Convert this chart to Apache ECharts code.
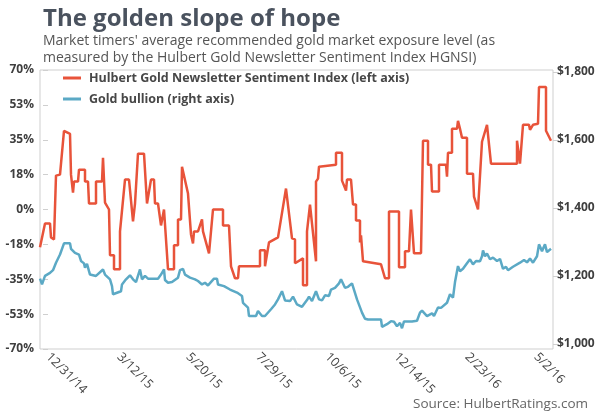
<!DOCTYPE html>
<html>
<head>
<meta charset="utf-8">
<title>The golden slope of hope</title>
<script src="https://cdn.jsdelivr.net/npm/echarts@6/dist/echarts.min.js"></script>
<style>
  html, body { margin: 0; padding: 0; background: #fff; }
  #chart { width: 600px; height: 419px; }
</style>
</head>
<body>
<div id="chart"></div>
<script>
// x values are days counted from 12/31/14
const dateTicks = [0, 71, 140, 210, 279, 348, 419, 488];
const dateLabels = ["12/31/14", "3/12/15", "5/20/15", "7/29/15", "10/6/15", "12/14/15", "2/23/16", "5/2/16"];

const pctTicks = [-70, -52.5, -35, -17.5, 0, 17.5, 35, 52.5, 70];
const pctLabels = ["-70%", "-53%", "-35%", "-18%", "0%", "18%", "35%", "53%", "70%"];

const goldTicks = [1000, 1200, 1400, 1600, 1800];
const goldLabels = ["$1,000", "$1,200", "$1,400", "$1,600", "$1,800"];

// HGNSI, % (left axis)
const hgnsiDays = [
  -8, -3, 2, 3, 6, 8, 12, 16, 22, 23, 25, 26, 30, 31, 37, 37, 40, 41, 48, 48,
  54, 55, 57, 61, 62, 66, 66, 72, 72, 74, 77, 81, 85, 87, 89, 90, 96, 99, 103, 106,
  107, 110, 113, 116, 120, 126, 126, 130, 130, 133, 134, 140, 142, 143, 145, 146, 150, 154, 155, 158,
  160, 161, 165, 175, 175, 181, 183, 187, 190, 191, 212, 212, 217, 217, 221, 230, 238, 244, 247, 247,
  255, 255, 259, 259, 261, 262, 268, 268, 270, 271, 288, 288, 294, 294, 298, 299, 303, 305, 308, 308,
  312, 312, 313, 315, 333, 337, 341, 341, 351, 351, 357, 357, 361, 363, 366, 373, 375, 380, 380, 383,
  384, 391, 391, 398, 399, 400, 404, 404, 409, 410, 412, 414, 419, 419, 425, 426, 430, 434, 439, 443,
  469, 469, 472, 475, 481, 482, 485, 490, 491, 498, 498, 503
];
const hgnsiValues = [
  -19, -7, -7, -14, -15, 17, 17.5, 39.5, 38, 17.5, 8.5, 14, 14, 20, 20, 14, 14, 3, 3, 14,
  14, 26, 3.5, 0, -23, -23, -30, -30, -11, -11, 15, 15, -6, 3, 3, 28, 28, 3, 15, 15,
  3, 3, -8, 0, -30, -30, -18, -18, -5, -5, 21.5, 8, 8, -12.5, -17, -11, -11, -5, -11, -16.5,
  -16.5, -22, 0, 0, -8, -8, -28.5, -34.5, -34.5, -28.5, -28.5, -20.5, -20.5, -28.5, -16.5, -14, 10.5, -14.5, -15, -27,
  -24.5, -38, -38, -11, -11, 2.5, -26, 14, 15.5, 21.5, 22.5, 28.5, 28.5, 14.5, 9.5, 15, 15, 2.5, 2.5, -5.5,
  -5.5, -16.5, -13, -26, -27.5, -34.5, -34.5, -1, -1, -29, -29, -21, -21, 0, -22, -22, 34.5, 34.5, 22.5, 22.5,
  9, 9, 22.5, 22.5, 16.5, 28.5, 28.5, 40.5, 40.5, 44.5, 40.5, 36, 36, 18, 18, 6.5, 0, 34, 42.5, 23,
  23, 34.5, 23, 42.5, 42.5, 40, 42.5, 43, 61.5, 61.5, 39.5, 34.5
];

// Gold bullion, $ (right axis)
const goldDays = [
  -8, -6, -3, 2, 5, 8, 12, 16, 22, 23, 27, 31, 33, 36, 37, 39, 41, 42, 48, 55,
  57, 62, 64, 65, 73, 74, 78, 82, 85, 88, 92, 94, 97, 100, 110, 113, 116, 117, 120, 124,
  130, 132, 135, 137, 142, 147, 150, 154, 157, 160, 166, 169, 170, 176, 182, 189, 194, 195, 200, 201,
  208, 210, 214, 217, 223, 227, 230, 234, 237, 242, 245, 249, 254, 259, 261, 264, 268, 271, 274, 277,
  281, 283, 287, 291, 293, 297, 300, 304, 309, 314, 317, 320, 333, 334, 339, 343, 346, 349, 351, 352,
  354, 356, 361, 364, 369, 372, 374, 376, 379, 384, 386, 390, 393, 395, 399, 402, 404, 405, 407, 409,
  410, 412, 415, 419, 422, 425, 428, 432, 434, 435, 437, 439, 442, 445, 449, 452, 455, 458, 460, 465,
  472, 476, 479, 482, 485, 489, 491, 494, 497, 499, 503
];
const goldValues = [
  1192, 1175, 1200, 1209, 1217, 1239, 1263, 1296, 1296, 1280, 1268, 1263, 1244, 1237, 1224, 1236, 1214, 1204, 1200, 1219,
  1204, 1190, 1170, 1146, 1155, 1175, 1190, 1202, 1190, 1182, 1219, 1190, 1200, 1192, 1192, 1204, 1219, 1188, 1180, 1182,
  1195, 1217, 1221, 1204, 1195, 1190, 1185, 1175, 1180, 1172, 1192, 1192, 1175, 1170, 1160, 1151, 1141, 1121, 1107, 1082,
  1082, 1097, 1082, 1082, 1102, 1116, 1131, 1155, 1128, 1126, 1139, 1116, 1109, 1129, 1139, 1126, 1155, 1131, 1128, 1143,
  1141, 1160, 1165, 1178, 1190, 1165, 1168, 1178, 1131, 1092, 1074, 1072, 1072, 1050, 1058, 1067, 1065, 1052, 1052, 1062,
  1046, 1066, 1066, 1066, 1068, 1092, 1098, 1094, 1082, 1090, 1082, 1107, 1106, 1104, 1121, 1146, 1145, 1136, 1182, 1178,
  1229, 1214, 1221, 1237, 1249, 1234, 1244, 1243, 1258, 1275, 1258, 1266, 1249, 1254, 1244, 1250, 1221, 1227, 1217, 1227,
  1239, 1247, 1240, 1251, 1239, 1258, 1293, 1273, 1293, 1270, 1280
];

const FONT = "'Open Sans', 'Noto Sans', sans-serif";
const RED = "#e8533a";
const BLUE = "#5ba9c5";
const INK = "#3f3f3f";

function pairs(xs, ys) {
  return xs.map((x, i) => [x, ys[i]]);
}

var chart = echarts.init(document.getElementById("chart"), null, { renderer: "canvas" });

const option = {
  backgroundColor: "#fff",
  animation: false,
  textStyle: { fontFamily: FONT },
  title: {
    left: 38,
    top: 0,
    itemGap: 0,
    text: "The golden slope of hope",
    textStyle: { fontSize: 24, fontWeight: "bold", color: "#4a525e", fontFamily: FONT, lineHeight: 28 },
    subtext: "Market timers' average recommended gold market exposure level (as\nmeasured by the Hulbert Gold Newsletter Sentiment Index HGNSI)",
    subtextStyle: { fontSize: 14, color: "#555", fontFamily: FONT, lineHeight: 17 }
  },
  legend: {
    orient: "vertical",
    left: 58,
    top: 66,
    itemGap: 7,
    itemWidth: 18,
    itemHeight: 3,
    icon: "rect",
    textStyle: { fontSize: 12.5, fontWeight: "bold", color: "#474747", fontFamily: FONT, padding: [0, 0, 0, 3], lineHeight: 14 },
    data: [
      "Hulbert Gold Newsletter Sentiment Index (left axis)",
      "Gold bullion (right axis)"
    ]
  },
  grid: {
    left: 40,
    right: 47,
    top: 70,
    bottom: 70,
    show: true,
    borderColor: "#cfcfcf",
    borderWidth: 1
  },
  xAxis: {
    type: "value",
    min: -8,
    max: 505,
    axisLine: { show: false },
    axisTick: { show: false },
    splitLine: { show: false },
    axisLabel: {
      customValues: dateTicks,
      rotate: -45,
      margin: 6,
      fontSize: 12.5,
      color: INK,
      fontFamily: FONT,
      formatter: function (value) {
        var i = dateTicks.indexOf(value);
        return i >= 0 ? dateLabels[i] : "";
      }
    }
  },
  yAxis: [
    {
      type: "value",
      position: "left",
      min: -70,
      max: 70,
      interval: 17.5,
      axisLine: { show: false },
      axisTick: { show: true, length: 5, lineStyle: { color: "#cfcfcf" } },
      splitLine: { show: false },
      axisLabel: {
        margin: 6,
        fontSize: 12,
        fontWeight: "bold",
        color: INK,
        fontFamily: FONT,
        formatter: function (value) {
          var i = pctTicks.indexOf(value);
          return i >= 0 ? pctLabels[i] : "";
        }
      }
    },
    {
      type: "value",
      position: "right",
      min: 985,
      max: 1806,
      axisLine: { show: false },
      axisTick: { show: true, length: 4, customValues: goldTicks, lineStyle: { color: "#cfcfcf" } },
      splitLine: { show: false },
      axisLabel: {
        customValues: goldTicks,
        margin: 4,
        fontSize: 12,
        fontWeight: "bold",
        color: INK,
        fontFamily: FONT,
        formatter: function (value) {
          var i = goldTicks.indexOf(value);
          return i >= 0 ? goldLabels[i] : "";
        }
      }
    }
  ],
  graphic: [
    {
      type: "text",
      right: 12,
      top: 397,
      style: { text: "Source: HulbertRatings.com", fontSize: 13.5, fill: "#666", fontFamily: FONT }
    }
  ],
  series: [
    {
      name: "Gold bullion (right axis)",
      type: "line",
      yAxisIndex: 1,
      showSymbol: false,
      color: BLUE,
      lineStyle: { width: 2.5, color: BLUE },
      data: pairs(goldDays, goldValues)
    },
    {
      name: "Hulbert Gold Newsletter Sentiment Index (left axis)",
      type: "line",
      yAxisIndex: 0,
      showSymbol: false,
      color: RED,
      lineStyle: { width: 2.5, color: RED },
      data: pairs(hgnsiDays, hgnsiValues)
    }
  ]
};

chart.setOption(option);
</script>
</body>
</html>
